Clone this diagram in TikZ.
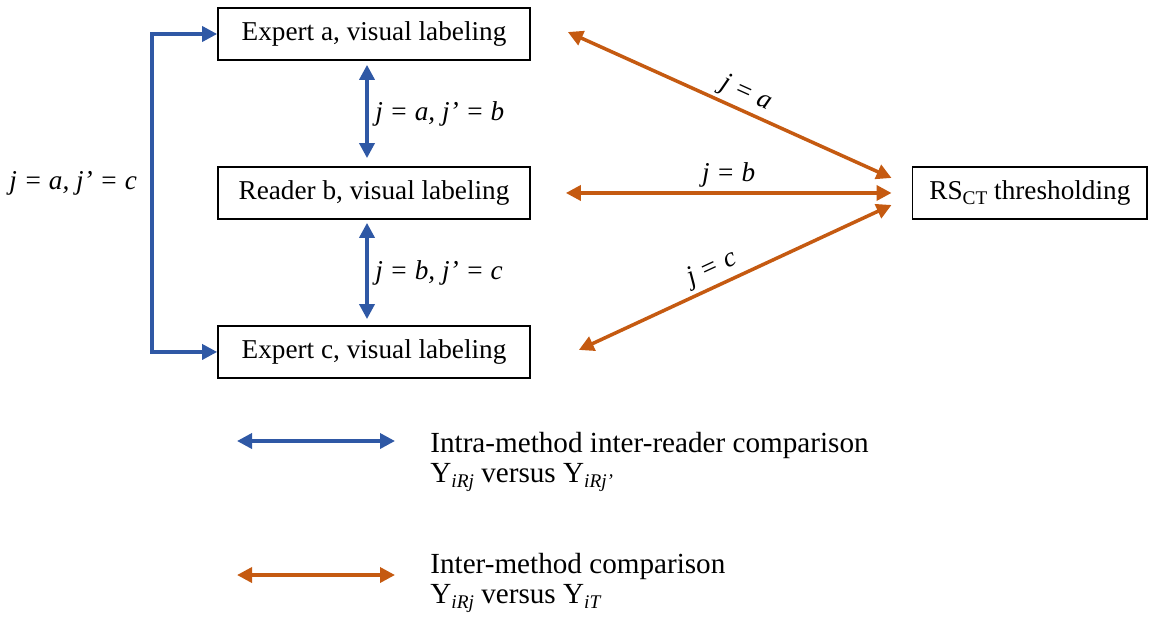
\documentclass[tikz,border=0pt]{standalone}
\usepackage{fontspec}
\setmainfont{Liberation Serif}
\usetikzlibrary{arrows.meta,calc}

\definecolor{linkblue}{RGB}{47,88,165}
\definecolor{linkorange}{RGB}{197,90,17}
\newcommand{\lowsub}[1]{\raisebox{-0.4ex}{\fontsize{11}{12}\selectfont #1}}

\tikzstyle{box} = [rectangle, minimum width=6.24cm, minimum height=1.04cm, text centered, draw=black, line width=1pt]
\tikzstyle{shortbox} = [rectangle, minimum width=4.7cm, minimum height=1.04cm, text centered, draw=black, line width=1pt]
\tikzstyle{bluearrow} = [draw=linkblue, line width=2pt, {Triangle[length=0.3cm,width=0.3cm]}-{Triangle[length=0.3cm,width=0.3cm]}]
\tikzstyle{orangearrow} = [draw=linkorange, line width=2pt, {Triangle[length=0.3cm,width=0.3cm]}-{Triangle[length=0.3cm,width=0.3cm]}]
\tikzstyle{pairlabel} = [font=\fontsize{15.5}{18}\selectfont\itshape, inner sep=2pt]
\tikzstyle{legtext} = [align=left, anchor=west, inner sep=0pt, font=\fontsize{16.6}{17}\selectfont]

\begin{document}
\begin{tikzpicture}[x=0.02cm, y=-0.02cm, node distance=3.18cm, font=\fontsize{15.5}{18}\selectfont]
\useasboundingbox (0,0) rectangle (1151,623);

		\node (expa) [box] at (374,34) {Expert a, visual labeling};
		\node (readb) [box, below of= expa] {Reader b, visual labeling};
		\node (expc) [box, below of= readb] {Expert c, visual labeling};
		\node (rsct) [shortbox, right of= readb, xshift=9.94cm] {RS\lowsub{CT} thresholding};

		% intra-method pairs
		\draw [bluearrow, shorten <=0.08cm, shorten >=0.16cm] ([xshift=-0.14cm]expa.south) -- node (lab) [pairlabel, right, xshift=0.06cm] {j = a, j' = b} ([xshift=-0.14cm]readb.north);
		\draw [bluearrow, shorten <=0.06cm, shorten >=0.12cm] ([xshift=-0.14cm]readb.south) -- node (lbc) [pairlabel, right, xshift=0.06cm] {j = b, j' = c} ([xshift=-0.14cm]expc.north);
		\draw [bluearrow] (expa.west) -- ++(-65,0) coordinate (ltop) -- node (lac) [pairlabel, left, pos=0.47, xshift=-0.2cm] {j = a, j' = c} (ltop |- expc.west) -- (expc.west);

		% inter-method pairs
		\draw [orangearrow] ([xshift=0.74cm, yshift=0.04cm]expa.east) -- node (ja) [pairlabel, sloped, above, pos=0.53] {j = a} ([xshift=-0.4cm, yshift=0.3cm]rsct.west);
		\draw [orangearrow] ([xshift=0.7cm]readb.east) -- node (jb) [pairlabel, above, pos=0.5] {j = b} ([xshift=-0.4cm]rsct.west);
		\draw [orangearrow] ([xshift=0.96cm, yshift=0.04cm]expc.east) -- node (jc) [pairlabel, sloped, above, pos=0.45] {j = c} ([xshift=-0.4cm, yshift=-0.24cm]rsct.west);

		% legend
		\coordinate (k1a) at (237,441);
		\coordinate (k1b) at (395,441);
		\coordinate (k2a) at (237,575);
		\coordinate (k2b) at (395,575);
		\draw [bluearrow] (k1a) -- (k1b);
		\draw [orangearrow] (k2a) -- (k2b);
		\node (leg1) [legtext] at (430,462) {Intra-method inter-reader comparison\\Y\lowsub{\textit{iRj}} versus Y\lowsub{\textit{iRj'}}};
		\node (leg2) [legtext] at (430,583) {Inter-method comparison\\Y\lowsub{\textit{iRj}} versus Y\lowsub{\textit{iT}}};
\end{tikzpicture}
\end{document}
